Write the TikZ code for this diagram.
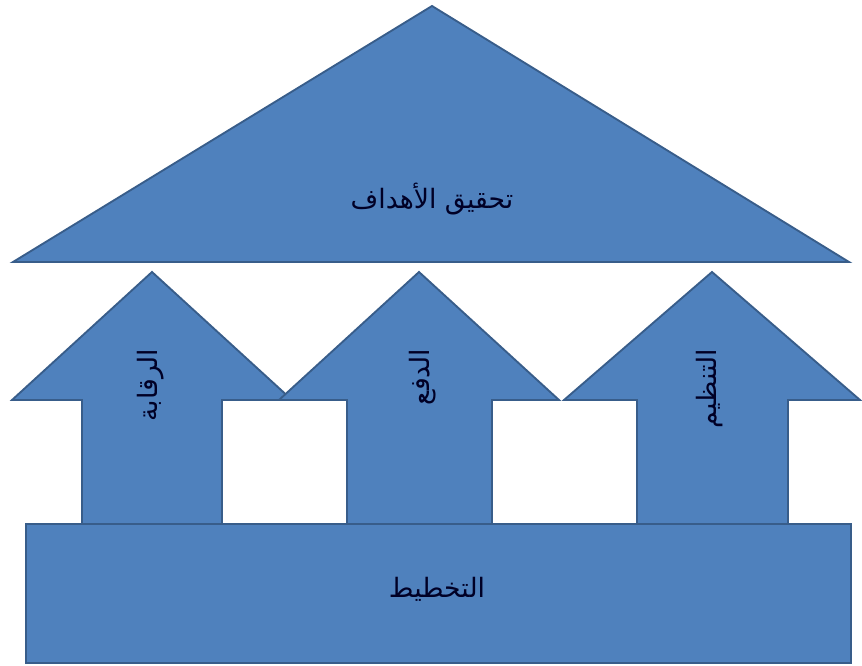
\documentclass[tikz,border=0pt]{standalone}
\usepackage{fontspec}
\newfontfamily\arabicfont[Script=Arabic]{DejaVu Sans}
\TeXXeTstate=1
\definecolor{shapeblue}{HTML}{4F81BD}
\definecolor{edgeblue}{HTML}{385D8A}
\begin{document}
\begin{tikzpicture}[x=0.75pt, y=0.75pt,
  every node/.style={font=\arabicfont\fontsize{20}{22}\selectfont, text=black!85!blue},
  block/.style={fill=shapeblue, draw=edgeblue, line width=1.4pt, line join=miter}]
\useasboundingbox (0,0) rectangle (862,666);

% Roof: the goals
\draw[block] (13,404) -- (432,660) -- (849,404) -- cycle;
\node (goals) at (432,467) {\beginR تحقيق الأهداف\endR};

% Three pillars (up arrows)
\draw[block] (82,142) -- (82,266) -- (12,266) -- (152,394) -- (292,266) -- (222,266) -- (222,142) -- cycle;
\node[rotate=90, anchor=east] (control) at (151,322) {\beginR الرقابة\endR};

\draw[block] (347,142) -- (347,266) -- (279,266) -- (419,394) -- (559,266) -- (492,266) -- (492,142) -- cycle;
\node[rotate=90, anchor=east] (drive) at (423,322) {\beginR الدفع\endR};

\draw[block] (637,142) -- (637,266) -- (564,266) -- (712,394) -- (860,266) -- (788,266) -- (788,142) -- cycle;
\node[rotate=90, anchor=east] (organize) at (710,322) {\beginR التنظيم\endR};

% Base: planning
\draw[block] (26,3) rectangle (851,142);
\node (planning) at (437,77) {\beginR التخطيط\endR};

\end{tikzpicture}
\end{document}
